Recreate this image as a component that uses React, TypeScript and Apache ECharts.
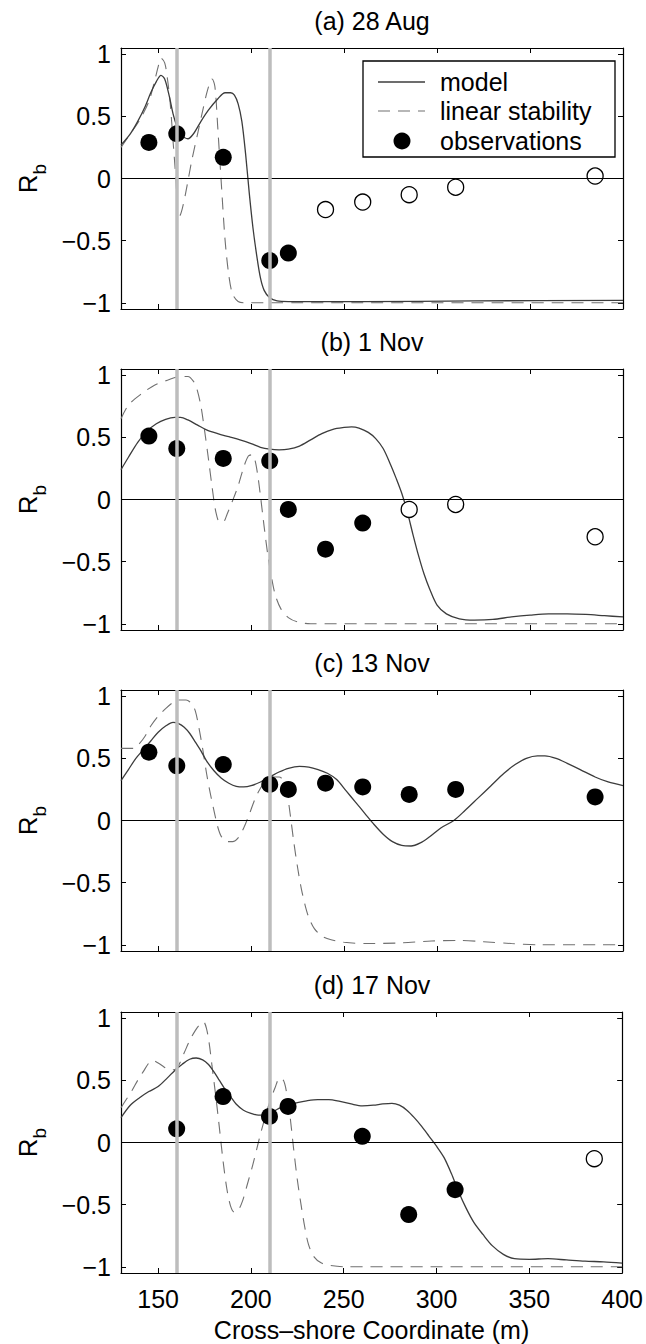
import React, { useEffect, useRef } from "react";
import * as echarts from "echarts";

const FONT = "Liberation Sans, Arial, Helvetica, sans-serif";

const xTicks = [150, 200, 250, 300, 350, 400];
const yTicks = [-1, -0.5, 0, 0.5, 1];
const refLinesX = [160, 210];
const panelTitles = ["(a) 28 Aug", "(b) 1 Nov", "(c) 13 Nov", "(d) 17 Nov"];
const legendLabels = ["model", "linear stability", "observations"];
const xAxisTitle = "Cross\u2013shore Coordinate (m)";

// Panel (a) 28 Aug
const modelA = [[130,0.27],[135,0.36],[139,0.46],[143,0.58],[146,0.69],[149,0.78],[151.5,0.83],[153.5,0.8],[156,0.66],[158,0.52],[160,0.42],[162,0.35],[164,0.33],[166,0.32],[169,0.36],[173,0.46],[177,0.55],[182,0.64],[186,0.69],[189,0.69],[191,0.67],[193,0.6],[195,0.46],[197,0.2],[199,-0.12],[201,-0.4],[203,-0.62],[205,-0.8],[207,-0.9],[210,-0.96],[214,-0.985],[220,-0.99],[260,-0.99],[320,-0.985],[400,-0.98]];
const stabA = [[130,0.25],[135,0.36],[140,0.47],[145,0.62],[148,0.78],[150,0.9],[151.5,0.97],[153.5,0.93],[155,0.8],[156.5,0.6],[158,0.3],[159.5,0.0],[160.5,-0.27],[161.5,-0.3],[163,-0.24],[165,-0.1],[168,0.14],[171.5,0.38],[174,0.55],[176,0.68],[178,0.78],[179,0.8],[180.5,0.74],[182,0.42],[184,-0.05],[186,-0.5],[188,-0.78],[190,-0.93],[193,-0.99],[196,-1.0],[400,-1.0]];
const filledA = [[145,0.29],[160,0.36],[185,0.17],[210,-0.66],[220,-0.6]];
const openA = [[240,-0.25],[260,-0.19],[285,-0.13],[310,-0.07],[385,0.02]];

// Panel (b) 1 Nov
const modelB = [[130,0.24],[134,0.34],[139,0.46],[144,0.55],[149,0.61],[154,0.645],[159,0.66],[162,0.66],[166,0.64],[171,0.6],[176,0.56],[182,0.53],[188,0.505],[194,0.48],[200,0.45],[205,0.42],[210,0.405],[215,0.4],[220,0.405],[226,0.43],[232,0.48],[238,0.53],[244,0.565],[250,0.58],[254,0.585],[258,0.575],[263,0.54],[267,0.49],[271,0.41],[275,0.28],[278,0.17],[281,0.05],[284,-0.1],[287,-0.28],[290,-0.45],[293,-0.6],[296,-0.72],[300,-0.85],[305,-0.92],[312,-0.96],[320,-0.97],[330,-0.965],[340,-0.945],[350,-0.93],[360,-0.92],[370,-0.92],[380,-0.925],[390,-0.935],[400,-0.945]];
const stabB = [[130,0.65],[134,0.76],[141,0.85],[148,0.92],[155,0.96],[162,0.99],[166,0.99],[169,0.95],[171,0.88],[173,0.75],[175,0.55],[177,0.33],[179,0.1],[181,-0.1],[183,-0.18],[185,-0.18],[187,-0.12],[190,-0.01],[193,0.11],[196,0.26],[198.5,0.35],[200.5,0.36],[202,0.32],[203.5,0.2],[205,0.03],[207,-0.22],[209,-0.45],[211,-0.63],[213,-0.77],[216,-0.88],[220,-0.95],[225,-0.985],[232,-1.0],[400,-1.0]];
const filledB = [[145,0.51],[160,0.41],[185,0.33],[210,0.31],[220,-0.08],[240,-0.4],[260,-0.19]];
const openB = [[285,-0.08],[310,-0.04],[385,-0.3]];

// Panel (c) 13 Nov
const modelC = [[130,0.32],[134,0.41],[138,0.5],[142,0.57],[146,0.64],[150,0.71],[154,0.76],[158,0.79],[161,0.78],[164,0.75],[167,0.7],[170,0.63],[173,0.56],[176,0.48],[180,0.4],[184,0.34],[188,0.3],[192,0.275],[196,0.27],[200,0.28],[205,0.31],[210,0.35],[215,0.39],[220,0.42],[226,0.435],[231,0.43],[236,0.41],[241,0.38],[246,0.33],[251,0.24],[256,0.15],[261,0.06],[266,-0.03],[271,-0.11],[276,-0.17],[281,-0.2],[286,-0.205],[291,-0.18],[296,-0.13],[302,-0.06],[309,0.0],[315,0.08],[322,0.18],[329,0.28],[336,0.38],[342,0.45],[348,0.5],[354,0.52],[358,0.52],[364,0.5],[370,0.46],[377,0.41],[385,0.35],[392,0.31],[400,0.28]];
const stabC = [[130,0.58],[134,0.58],[137,0.58],[140,0.62],[143,0.68],[146,0.76],[150,0.84],[154,0.9],[158,0.95],[161,0.97],[165,0.97],[168,0.94],[170,0.88],[172,0.74],[174,0.57],[176,0.38],[178,0.22],[180,0.08],[182,-0.05],[184,-0.13],[187,-0.17],[190,-0.17],[193,-0.14],[196,-0.06],[199,0.05],[202,0.17],[205,0.26],[208,0.32],[212,0.35],[215,0.35],[217,0.33],[219,0.25],[221,0.05],[223,-0.18],[225,-0.38],[227,-0.55],[229,-0.68],[231,-0.78],[234,-0.87],[238,-0.93],[243,-0.96],[250,-0.98],[262,-0.99],[280,-0.985],[297,-0.97],[311,-0.965],[325,-0.975],[340,-0.99],[355,-1.0],[400,-1.0]];
const filledC = [[145,0.55],[160,0.44],[185,0.45],[210,0.29],[220,0.25],[240,0.3],[260,0.27],[285,0.21],[310,0.25],[385,0.19]];
const openC: number[][] = [];

// Panel (d) 17 Nov
const modelD = [[130,0.2],[135,0.3],[140,0.36],[145,0.41],[150,0.45],[155,0.52],[159,0.58],[163,0.63],[167,0.67],[170.5,0.68],[174,0.665],[177,0.63],[180,0.57],[183,0.5],[186,0.43],[189,0.37],[192,0.31],[196,0.26],[200,0.235],[204,0.22],[208,0.225],[212,0.25],[216,0.28],[220,0.3],[225,0.32],[230,0.335],[236,0.345],[242,0.345],[248,0.33],[254,0.31],[260,0.295],[266,0.3],[271,0.31],[276,0.315],[280,0.3],[284,0.26],[288,0.2],[292,0.13],[296,0.05],[300,-0.03],[304,-0.12],[308,-0.25],[312,-0.4],[316,-0.53],[320,-0.64],[325,-0.74],[330,-0.83],[336,-0.9],[342,-0.935],[350,-0.94],[360,-0.935],[370,-0.945],[380,-0.955],[390,-0.96],[400,-0.97]];
const stabD = [[130,0.28],[133,0.35],[136,0.42],[139,0.5],[142,0.57],[145,0.64],[147,0.66],[150,0.64],[153,0.61],[156,0.585],[158.5,0.585],[161,0.62],[164,0.72],[167,0.82],[170,0.9],[172.5,0.95],[174.5,0.97],[176,0.92],[177.5,0.8],[179,0.62],[181,0.38],[183,0.12],[185,-0.15],[187,-0.37],[189,-0.51],[191,-0.56],[193,-0.55],[195.5,-0.47],[198,-0.34],[201,-0.18],[204,0.0],[207,0.17],[210,0.32],[213,0.44],[215.5,0.52],[217.5,0.5],[219,0.42],[221,0.22],[223,-0.05],[225,-0.3],[227,-0.5],[229,-0.68],[231,-0.82],[234,-0.92],[238,-0.97],[243,-0.99],[250,-1.0],[400,-1.0]];
const filledD = [[160,0.11],[185,0.37],[210,0.21],[220,0.29],[260,0.05],[285,-0.58],[310,-0.38]];
const openD = [[385,-0.13]];

const models = [modelA, modelB, modelC, modelD];
const stabs = [stabA, stabB, stabC, stabD];
const filleds = [filledA, filledB, filledC, filledD];
const opens = [openA, openB, openC, openD];

const X_MIN = 130, X_MAX = 400, Y_MIN = -1.05, Y_MAX = 1.05;
const GRID_LEFT = 121, GRID_W = 502, GRID_H = 261;
const GRID_TOPS = [48, 369, 690, 1012];
const FS = 25;
const MODEL_COLOR = "#3c3c3c";
const STAB_COLOR = "#707070";
const REF_COLOR = "#bdbdbd";
const DASH = [12, 8];

const fmt = (v: number) => String(v).replace("-", "\u2212");

function buildOption() {
  const grid: any[] = [];
  const xAxis: any[] = [];
  const yAxis: any[] = [];
  const series: any[] = [];
  const graphic: any[] = [];

  GRID_TOPS.forEach((top, i) => {
    grid.push({ left: GRID_LEFT, top, width: GRID_W, height: GRID_H, show: false });
    const isLast = i === GRID_TOPS.length - 1;
    const tickStyle = { show: true, inside: true, length: 5, customValues: xTicks, lineStyle: { color: "#000", width: 1 } };
    xAxis.push({
      type: "value", gridIndex: i, min: X_MIN, max: X_MAX, position: "bottom",
      axisLine: { show: true, onZero: false, lineStyle: { color: "#000", width: 1.2 } },
      axisTick: tickStyle,
      axisLabel: { show: isLast, customValues: xTicks, margin: 13, color: "#000", fontSize: FS, fontFamily: FONT },
      splitLine: { show: false },
      name: isLast ? xAxisTitle : "",
      nameLocation: "middle", nameGap: 44,
      nameTextStyle: { color: "#000", fontSize: FS, fontFamily: FONT },
    });
    xAxis.push({
      type: "value", gridIndex: i, min: X_MIN, max: X_MAX, position: "top",
      axisLine: { show: true, onZero: false, lineStyle: { color: "#000", width: 1.2 } },
      axisTick: tickStyle,
      axisLabel: { show: false },
      splitLine: { show: false },
    });
    const yTickStyle = { show: true, inside: true, length: 5, customValues: yTicks, lineStyle: { color: "#000", width: 1 } };
    yAxis.push({
      type: "value", gridIndex: i, min: Y_MIN, max: Y_MAX, position: "left",
      axisLine: { show: true, onZero: false, lineStyle: { color: "#000", width: 1.2 } },
      axisTick: yTickStyle,
      axisLabel: { show: true, customValues: yTicks, margin: 10, color: "#000", fontSize: FS, fontFamily: FONT, formatter: (v: number) => fmt(v) },
      splitLine: { show: false },
      name: "{r|R}{s|b}",
      nameLocation: "middle", nameRotate: 90, nameGap: 72,
      nameTextStyle: {
        color: "#000", fontFamily: FONT,
        rich: {
          r: { fontSize: FS + 1, fontFamily: FONT, color: "#000", verticalAlign: "top", lineHeight: 28 },
          s: { fontSize: 19, fontFamily: FONT, color: "#000", verticalAlign: "bottom", padding: [15, 0, 0, 0] },
        },
      },
    });
    yAxis.push({
      type: "value", gridIndex: i, min: Y_MIN, max: Y_MAX, position: "right",
      axisLine: { show: true, onZero: false, lineStyle: { color: "#000", width: 1.2 } },
      axisTick: yTickStyle,
      axisLabel: { show: false },
      splitLine: { show: false },
    });

    const xi = 2 * i;
    // zero line
    series.push({
      type: "line", xAxisIndex: xi, yAxisIndex: xi, data: [], silent: true, z: 1,
      markLine: {
        silent: true, symbol: "none", label: { show: false },
        lineStyle: { color: "#000", width: 1.2, type: "solid", opacity: 1 },
        data: [{ yAxis: 0 }],
      },
    });
    series.push({
      name: legendLabels[1], type: "line", xAxisIndex: xi, yAxisIndex: xi, data: stabs[i],
      showSymbol: false, smooth: 0.3, z: 2,
      lineStyle: { color: STAB_COLOR, width: 1.1, type: DASH },
    });
    series.push({
      name: legendLabels[0], type: "line", xAxisIndex: xi, yAxisIndex: xi, data: models[i],
      showSymbol: false, smooth: 0.3, z: 3,
      lineStyle: { color: MODEL_COLOR, width: 1.3 },
    });
    series.push({
      name: legendLabels[2], type: "scatter", xAxisIndex: xi, yAxisIndex: xi, data: filleds[i],
      symbol: "circle", symbolSize: 17, z: 4,
      itemStyle: { color: "#000", opacity: 1 },
    });
    series.push({
      name: legendLabels[2] + " (open)", type: "scatter", xAxisIndex: xi, yAxisIndex: xi, data: opens[i],
      symbol: "circle", symbolSize: 16, z: 4,
      itemStyle: { color: "#fff", borderColor: "#000", borderWidth: 1.3, opacity: 1 },
    });
    // vertical reference lines
    series.push({
      type: "line", xAxisIndex: xi, yAxisIndex: xi, data: [], silent: true, z: 5,
      markLine: {
        silent: true, symbol: "none", label: { show: false },
        lineStyle: { color: REF_COLOR, width: 3.5, type: "solid", opacity: 1 },
        data: refLinesX.map((x) => ({ xAxis: x })),
      },
    });

    graphic.push({
      type: "text", x: GRID_LEFT + GRID_W / 2, y: top - 27, z: 10,
      style: { text: panelTitles[i], fill: "#000", font: `${FS}px ${FONT}`, align: "center", verticalAlign: "middle" },
    });
  });

  // legend for panel (a)
  const lx = 363, ly = 61, lw = 252, lh = 96;
  const rows = [82, 111, 141];
  graphic.push({ type: "rect", z: 20, shape: { x: lx, y: ly, width: lw, height: lh }, style: { fill: "#fff", stroke: "#000", lineWidth: 1.3 } });
  graphic.push({ type: "line", z: 21, shape: { x1: 378, y1: rows[0], x2: 425, y2: rows[0] }, style: { stroke: MODEL_COLOR, lineWidth: 1.3 } });
  graphic.push({ type: "line", z: 21, shape: { x1: 378, y1: rows[1], x2: 425, y2: rows[1] }, style: { stroke: STAB_COLOR, lineWidth: 1.1, lineDash: DASH } });
  graphic.push({ type: "circle", z: 21, shape: { cx: 402, cy: rows[2], r: 8.5 }, style: { fill: "#000" } });
  legendLabels.forEach((t, k) => {
    graphic.push({
      type: "text", z: 21, x: 440, y: rows[k],
      style: { text: t, fill: "#000", font: `${FS}px ${FONT}`, align: "left", verticalAlign: "middle" },
    });
  });

  return {
    animation: false,
    backgroundColor: "#fff",
    grid, xAxis, yAxis, series, graphic,
  };
}

export default function App() {
  const ref = useRef<HTMLDivElement>(null);
  useEffect(() => {
    if (!ref.current) return;
    const chart = echarts.init(ref.current, null, { renderer: "svg" });
    chart.setOption(buildOption() as any);
    return () => chart.dispose();
  }, []);
  return (
    <div
      ref={ref}
      style={{ position: "absolute", left: 0, top: 0, width: 646, height: 1344, background: "#fff" }}
    />
  );
}
